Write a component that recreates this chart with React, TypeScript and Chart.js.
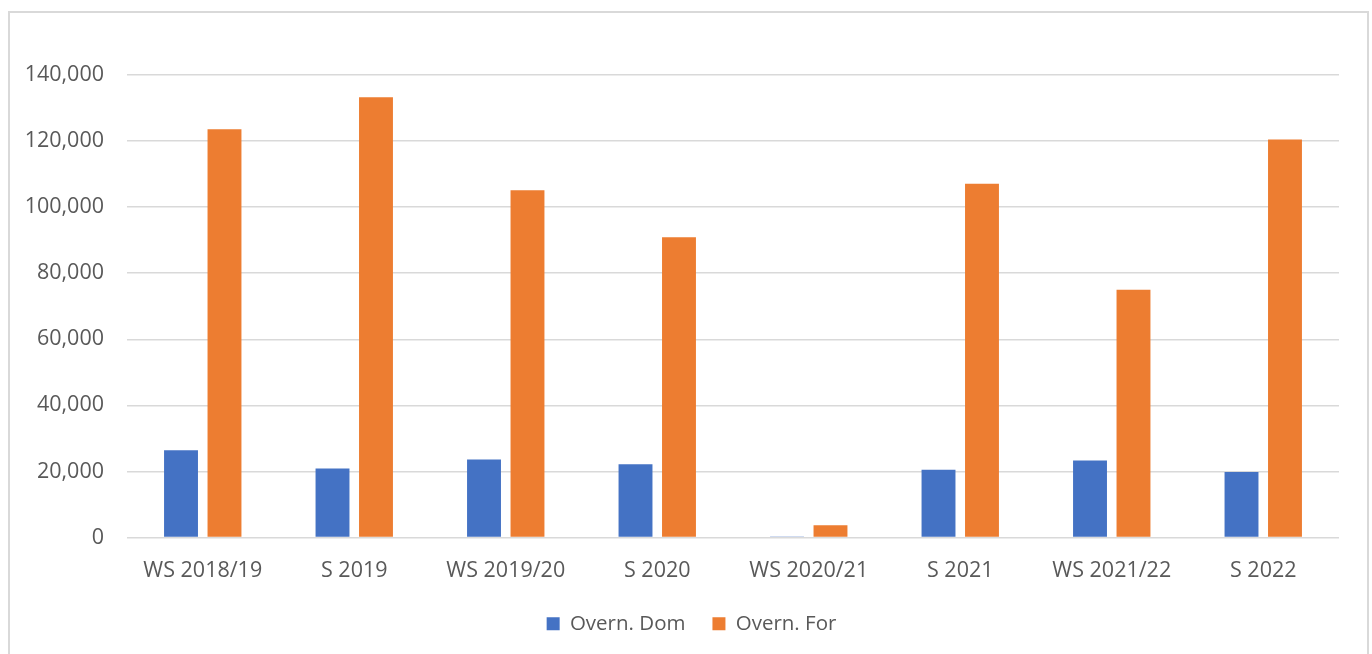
import { useEffect, useRef } from "react";
import { Chart, registerables } from "chart.js";

Chart.register(...registerables);

const categories = [
  "WS 2018/19",
  "S 2019",
  "WS 2019/20",
  "S 2020",
  "WS 2020/21",
  "S 2021",
  "WS 2021/22",
  "S 2022",
];
const overnDom = [26400, 20900, 23600, 22200, 300, 20500, 23300, 19800];
const overnFor = [123600, 133300, 105100, 90900, 3700, 107100, 75000, 120500];
const yMax = 140000;
const yStep = 20000;

const FONT = "'Open Sans', 'Noto Sans', sans-serif";
const TEXT = "#595959";
const GRID = "#d9d9d9";

// The legend is centred on the whole frame rather than on the plot area.
const legendShift = {
  id: "legendShift",
  afterLayout(chart: any) {
    if (chart.legend) {
      chart.legend.left += 22;
      chart.legend.right += 22;
    }
  },
};

export default function App() {
  const canvasRef = useRef<HTMLCanvasElement | null>(null);

  useEffect(() => {
    if (!canvasRef.current) return;
    const chart = new Chart(canvasRef.current, {
      type: "bar",
      data: {
        labels: categories,
        datasets: [
          {
            label: "Overn. Dom",
            data: overnDom,
            backgroundColor: "#4472C4",
            barPercentage: 0.78,
            categoryPercentage: 0.574,
          },
          {
            label: "Overn. For",
            data: overnFor,
            backgroundColor: "#ED7D31",
            barPercentage: 0.78,
            categoryPercentage: 0.574,
          },
        ],
      },
      plugins: [legendShift],
      options: {
        animation: false,
        responsive: false,
        maintainAspectRatio: false,
        layout: { padding: { left: 0, right: 33, top: 75, bottom: 10 } },
        plugins: {
          tooltip: { enabled: false },
          legend: {
            position: "bottom",
            labels: {
              boxWidth: 13,
              boxHeight: 13,
              padding: 27,
              color: TEXT,
              font: { family: FONT, size: 20.5 },
            },
          },
        },
        scales: {
          x: {
            grid: { display: false, drawTicks: false },
            border: { display: false },
            ticks: {
              color: TEXT,
              padding: 20,
              maxRotation: 0,
              font: { family: FONT, size: 21.5 },
            },
            afterFit: (scale: any) => {
              scale.height = 49;
            },
          },
          y: {
            min: 0,
            max: yMax,
            grid: { color: GRID, lineWidth: 1.5, drawTicks: false },
            border: { display: false },
            ticks: {
              stepSize: yStep,
              color: TEXT,
              padding: 23,
              font: { family: FONT, size: 21.5 },
              callback: (v: any) => Number(v).toLocaleString("en-US"),
            },
            afterFit: (scale: any) => {
              scale.width = 127;
            },
          },
        },
      },
    });
    return () => chart.destroy();
  }, []);

  return (
    <div style={{ position: "absolute", left: 0, top: 0, width: 1372, height: 654, overflow: "hidden", background: "#fff" }}>
      <div
        style={{
          position: "absolute",
          left: 8,
          top: 11,
          width: 1361,
          height: 643,
          boxSizing: "border-box",
          border: `2px solid ${GRID}`,
          borderBottom: "none",
        }}
      />
      <canvas ref={canvasRef} width={1372} height={654} style={{ position: "absolute", left: 0, top: 0 }} />
    </div>
  );
}
